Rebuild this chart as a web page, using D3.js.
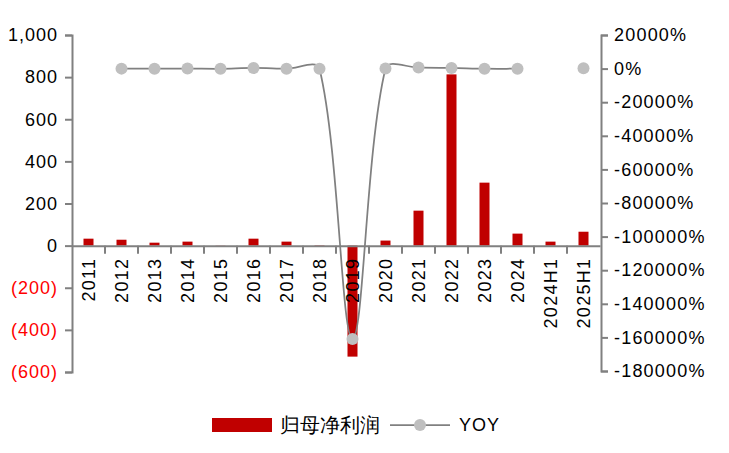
<!DOCTYPE html>
<html><head><meta charset="utf-8">
<script src="https://cdn.jsdelivr.net/npm/d3@7"></script>
<style>
html,body{margin:0;padding:0;background:#fff;}
svg text{font-family:"Liberation Sans",Arial,sans-serif;}
</style></head>
<body><svg id="c" width="729" height="453"></svg>
<script>
const categories = ["2011","2012","2013","2014","2015","2016","2017","2018","2019","2020","2021","2022","2023","2024","2024H1","2025H1"];
const profit = [33,28,14,19,1,33,19,2,-527,24,166,813,299,57,19,66];
const yoy = [null,-15,-50,36,-95,400,-42,-98,-161000,105,590,390,-63,-81,null,247];
const leftTicks = [-600,-400,-200,0,200,400,600,800,1000];
const rightTicks = [20000,0,-20000,-40000,-60000,-80000,-100000,-120000,-140000,-160000,-180000];
const seriesNames = ["归母净利润","YOY"];

const svg = d3.select("#c");
const L = 72, R = 600, T = 35, B = 372;
const axisColor = "#808080";

const x = d3.scaleBand().domain(categories).range([L, R]).padding(0);
const y = d3.scaleLinear().domain([-600, 1000]).range([B, T]);
const yR = d3.scaleLinear().domain([-180000, 20000]).range([B - 1, T]);

// bars
const bw = 10;
svg.append("g").selectAll("rect").data(categories).join("rect")
  .attr("x", (d) => x(d) + x.bandwidth()/2 - bw/2)
  .attr("y", (d,i) => y(Math.max(0, profit[i])))
  .attr("width", bw)
  .attr("height", (d,i) => Math.abs(y(profit[i]) - y(0)))
  .attr("fill", "#C00000");

// left axis
const fmtL = d3.format(",");
const gL = svg.append("g").attr("transform", `translate(${L},0)`)
  .call(d3.axisLeft(y).tickValues(leftTicks).tickSize(7).tickPadding(7)
    .tickFormat(v => v < 0 ? `(${fmtL(-v)})` : fmtL(v)));
gL.select(".domain").attr("stroke", axisColor).attr("stroke-width", 2);
gL.selectAll(".tick line").attr("stroke", axisColor).attr("stroke-width", 2);
gL.selectAll(".tick text").attr("font-size", 18).attr("letter-spacing", 1)
  .attr("fill", d => d < 0 ? "#FF0000" : "#000")
  .attr("font-family", "Liberation Sans, Arial, sans-serif");

// right axis
const gR = svg.append("g").attr("transform", `translate(${R+1},0)`)
  .call(d3.axisRight(yR).tickValues(rightTicks).tickSize(7).tickPadding(6)
    .tickFormat(v => v + "%"));
gR.select(".domain").attr("stroke", axisColor).attr("stroke-width", 2);
gR.selectAll(".tick line").attr("stroke", axisColor).attr("stroke-width", 2);
gR.selectAll(".tick text").attr("font-size", 18).attr("letter-spacing", 1.2).attr("fill", "#000")
  .attr("font-family", "Liberation Sans, Arial, sans-serif");

// x axis at zero
const y0 = y(0);
const gX = svg.append("g").attr("transform", `translate(0,${y0})`)
  .call(d3.axisBottom(x).tickSize(0).tickFormat(""));
gX.select(".domain").attr("stroke", axisColor).attr("stroke-width", 2);
gX.selectAll(".tick").remove();
// boundary ticks
const bounds = categories.slice(1).map(c => x(c));
gX.append("g").selectAll("line").data(bounds).join("line")
  .attr("x1", d => d).attr("x2", d => d).attr("y1", 0).attr("y2", 8)
  .attr("stroke", axisColor).attr("stroke-width", 2);
// x labels rotated
gX.append("g").selectAll("text").data(categories).join("text")
  .attr("transform", d => `translate(${x(d) + x.bandwidth()/2 + 6},12) rotate(-90)`)
  .attr("text-anchor", "end")
  .attr("font-size", 18).attr("letter-spacing", 1.3).attr("fill", "#000")
  .text(d => d);

// YOY line with Excel-like smoothing
const pts = categories.map((c, i) => yoy[i] == null ? null : [x(c) + x.bandwidth()/2, yR(yoy[i])]);
const segments = [];
let cur = [];
pts.forEach(p => { if (p) cur.push(p); else { if (cur.length) segments.push(cur); cur = []; } });
if (cur.length) segments.push(cur);
const dist = (a, b) => Math.hypot(a[0]-b[0], a[1]-b[1]);
function smoothPath(s) {
  if (s.length < 2) return null;
  let d = `M${s[0][0]},${s[0][1]}`;
  const k = 1/3;
  for (let i = 0; i < s.length - 1; i++) {
    const p0 = s[i-1] || s[i], p1 = s[i], p2 = s[i+1], p3 = s[i+2] || s[i+1];
    const d01 = dist(p0,p1), d12 = dist(p1,p2), d23 = dist(p2,p3);
    const f1 = (d01 + d12) > 0 ? k * d12 / (d01 + d12) : 0;
    const f2 = (d12 + d23) > 0 ? k * d12 / (d12 + d23) : 0;
    const c1 = [p1[0] + (p2[0]-p0[0])*f1, p1[1] + (p2[1]-p0[1])*f1];
    const c2 = [p2[0] - (p3[0]-p1[0])*f2, p2[1] - (p3[1]-p1[1])*f2];
    d += `C${c1[0]},${c1[1]} ${c2[0]},${c2[1]} ${p2[0]},${p2[1]}`;
  }
  return d;
}
svg.append("g").selectAll("path").data(segments.filter(s => s.length > 1)).join("path")
  .attr("d", s => smoothPath(s))
  .attr("fill", "none").attr("stroke", "#808080").attr("stroke-width", 1.75);
svg.append("g").selectAll("circle").data(pts.filter(p => p)).join("circle")
  .attr("cx", p => p[0]).attr("cy", p => p[1]).attr("r", 6)
  .attr("fill", "#BFBFBF");

// legend
const lg = svg.append("g");
lg.append("rect").attr("x", 212).attr("y", 418).attr("width", 60).attr("height", 14).attr("fill", "#C00000");
lg.append("text").attr("x", 280).attr("y", 425).attr("dy", "0.35em")
  .attr("font-size", 20).attr("font-family", "'Noto Sans CJK SC', sans-serif").attr("fill", "#000")
  .text(seriesNames[0]);
lg.append("line").attr("x1", 390).attr("x2", 450).attr("y1", 425).attr("y2", 425)
  .attr("stroke", "#808080").attr("stroke-width", 1.75);
lg.append("circle").attr("cx", 420).attr("cy", 425).attr("r", 6).attr("fill", "#BFBFBF");
lg.append("text").attr("x", 459).attr("y", 425).attr("dy", "0.35em")
  .attr("font-size", 18).attr("letter-spacing", 1).attr("fill", "#000").text(seriesNames[1]);
</script></body></html>
